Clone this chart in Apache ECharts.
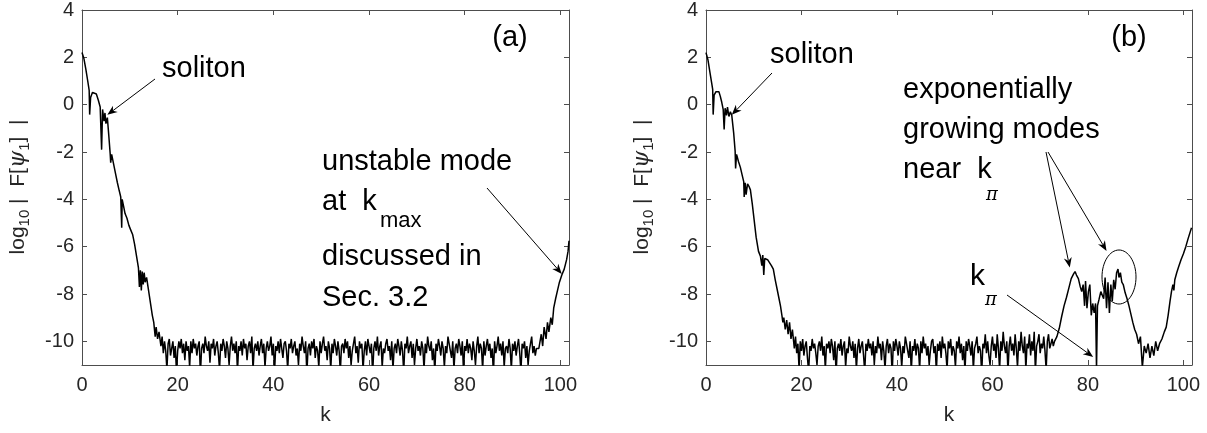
<!DOCTYPE html>
<html>
<head>
<meta charset="utf-8">
<script src="https://cdn.jsdelivr.net/npm/echarts@6/dist/echarts.min.js"></script>
<style>
  html, body { margin: 0; padding: 0; background: #fff; }
  #chart { width: 1207px; height: 433px; }
</style>
</head>
<body>
<div id="chart"></div>
<script>
// axis settings
const kMax = 101.8;
const yMin = -11;
const yMax = 4;
const kTicks = [0, 20, 40, 60, 80, 100];
const yTicks = [-10, -8, -6, -4, -2, 0, 2, 4];
const kStep = 0.25; // spacing of the noise-floor samples

// panel (a): soliton part
const kHeadA = [0, 0.4, 0.8, 1.2, 1.5, 1.6, 1.8, 2.2, 2.6, 3.0, 3.4, 3.8, 4.1, 4.3, 4.6, 4.8, 5.0, 5.3, 5.6, 5.9,
  6.0, 6.2, 6.6, 7.0, 7.4, 7.8, 8.1, 8.3, 8.4, 8.7, 9.0, 9.4, 9.8, 10.2, 10.6, 11.0, 11.4, 11.8, 12.0, 12.2,
  12.4, 12.6, 12.8, 13.0, 13.2, 13.5, 13.8, 14.1, 14.4, 14.7, 15.0, 15.3, 15.5, 15.8, 16.1];
const yHeadA = [2.2, 1.95, 1.5, 1.0, 0.6, -0.42, 0.3, 0.52, 0.55, 0.45, 0.2, -0.1, -1.9, -0.2, -0.7, -0.35, -0.8, -0.55, -1.3, -2.1,
  -2.45, -2.1, -2.5, -2.9, -3.3, -3.65, -3.9, -5.2, -4.0, -4.3, -4.6, -4.8, -5.1, -5.3, -5.5, -5.9, -6.4, -6.9, -7.7, -7.0,
  -7.85, -7.05, -7.6, -7.1, -7.5, -7.3, -7.7, -8.1, -8.5, -8.9, -9.2, -9.8, -9.4, -9.9, -9.6];
// panel (a): noise floor, k = 16.5 ... 95 every 0.25
const kBodyA0 = 16.5;
const yBodyA = [
  -10.2, -9.8, -10.5, -10.0, -10.4, -11.2, -10.1, -9.9, -10.6, -10.3, -10.0, -10.7, -10.2, -11.3, -10.4, -10.0, -10.3, -9.9, -10.5, -10.1, -10.8,
  -10.0, -10.4, -10.2, -11.1, -10.0, -10.5, -9.9, -10.3, -10.1, -10.6, -10.2, -10.0, -11.4, -10.3, -10.1, -10.5, -9.8, -10.2, -10.4, -10.0, -10.9,
  -10.1, -10.3, -9.9, -10.6, -10.2, -10.0, -10.5, -11.2, -10.1, -10.4, -9.9, -10.2, -10.7, -10.0, -10.3, -11.0, -10.2, -9.8, -10.4, -10.1, -10.5,
  -10.0, -11.3, -10.2, -10.4, -10.0, -10.6, -9.9, -10.3, -10.1, -10.8, -10.2, -10.0, -10.5, -9.8, -11.2, -10.3, -10.1, -10.4, -10.0, -10.6, -10.2,
  -9.9, -10.5, -10.1, -11.1, -10.3, -10.0, -10.4, -10.2, -9.8, -10.6, -10.1, -11.3, -10.2, -10.4, -10.0, -10.5, -9.9, -10.3, -10.7, -10.1, -10.0,
  -10.4, -11.2, -10.1, -10.3, -9.9, -10.5, -10.2, -10.0, -10.6, -10.3, -11.0, -10.1, -10.4, -9.8, -10.2, -10.5, -10.0, -11.4, -10.3, -10.1, -10.6,
  -10.0, -10.3, -9.9, -10.7, -10.2, -10.4, -11.1, -10.0, -10.5, -10.1, -9.8, -10.4, -10.2, -10.8, -10.0, -10.3, -11.2, -10.1, -10.5, -9.9, -10.2,
  -10.6, -10.0, -10.4, -11.3, -10.2, -10.1, -10.5, -9.9, -10.3, -10.0, -10.7, -10.2, -11.0, -10.4, -10.1, -9.8, -10.5, -10.2, -10.9, -10.0, -10.3,
  -10.1, -11.2, -10.4, -10.0, -10.6, -9.9, -10.2, -10.5, -10.1, -11.4, -10.3, -10.0, -10.4, -9.8, -10.6, -10.2, -10.0, -11.1, -10.3, -10.5, -10.1,
  -9.9, -10.4, -10.2, -10.8, -10.0, -11.2, -10.3, -10.1, -10.5, -9.9, -10.2, -10.6, -10.0, -10.4, -11.3, -10.1, -10.3, -9.8, -10.5, -10.2, -10.0,
  -10.7, -10.1, -11.0, -10.3, -9.9, -10.4, -10.2, -10.6, -10.0, -10.3, -11.2, -10.1, -10.5, -9.8, -10.2, -10.4, -10.0, -10.8, -10.3, -11.3, -10.1,
  -10.4, -9.9, -10.2, -10.6, -10.0, -10.3, -11.1, -10.2, -10.5, -9.8, -10.1, -10.4, -10.7, -10.0, -11.2, -10.3, -10.1, -10.5, -9.9, -10.2, -10.6,
  -10.0, -11.3, -10.2, -10.4, -9.9, -10.5, -10.1, -10.3, -10.8, -10.0, -10.4, -11.0, -10.2, -9.8, -10.5, -10.1, -10.3, -11.2, -10.0, -10.6, -10.2,
  -9.9, -10.4, -10.1, -10.7, -10.3, -11.4, -10.0, -10.5, -10.2, -9.8, -10.4, -10.1, -10.6, -10.0, -11.1, -10.3, -10.2, -10.5, -9.9, -10.3, -11.2,
  -10.1, -10.4, -10.0, -10.6, -10.2, -9.9, -10.5, -11.3, -10.1, -10.3, -10.0, -10.7, -10.2, -11.0, -10.4, -10.1, -9.8, -10.5, -10.2, -10.6, -10.3];
// panel (a): unstable mode at k_max
const kTailA = [95.5, 96.0, 96.3, 96.6, 97.0, 97.3, 97.6, 98.0, 98.3, 98.6, 99.0, 99.4, 99.8, 100.3, 100.8, 101.3, 101.6, 101.8];
const yTailA = [-10.3, -9.7, -10.2, -9.4, -9.9, -9.2, -9.6, -9.0, -9.3, -8.6, -8.2, -7.85, -7.5, -7.2, -6.95, -6.55, -6.2, -5.75];

// panel (b): soliton part
const kHeadB = [0, 0.4, 0.8, 1.2, 1.4, 1.5, 1.7, 2.1, 2.7, 3.0, 3.3, 3.6, 3.8, 4.0, 4.3, 4.5, 4.8, 5.1, 5.4, 5.8,
  6.1, 6.2, 6.4, 6.8, 7.2, 7.6, 7.9, 8.0, 8.2, 8.4, 8.7, 9.0, 9.3, 9.7, 10.1, 10.5, 11.0, 11.4, 11.7, 11.9,
  12.1, 12.3, 12.6, 12.9, 13.3, 13.7, 14.1, 14.5, 14.9, 15.3, 15.6, 15.9, 16.1, 16.3, 16.6, 16.9, 17.2, 17.5, 17.8, 18.1];
const yHeadB = [2.2, 1.9, 1.4, 0.9, 0.65, -0.42, 0.4, 0.55, 0.55, 0.35, 0.1, -0.2, -1.05, -0.15, -0.45, -0.1, -0.5, -0.3, -0.45, -1.2,
  -1.95, -2.7, -2.1, -2.4, -2.65, -3.0, -3.25, -3.9, -3.3, -3.8, -3.35, -3.45, -3.6, -4.2, -4.9, -5.6, -6.2, -6.4, -6.8, -6.35,
  -7.2, -6.5, -6.45, -6.55, -6.6, -6.8, -6.95, -7.4, -7.8, -8.2, -8.5, -8.9, -9.2, -9.0, -9.5, -9.1, -9.7, -9.2, -9.9, -9.5];
// panel (b): noise floor, k = 18.5 ... 73 every 0.25
const kBodyB0 = 18.5;
const yBodyB = [
  -10.3, -9.8, -10.5, -10.1, -11.2, -10.0, -10.4, -9.9, -10.6, -10.2, -10.0, -10.7, -11.3, -10.2, -10.4, -9.9, -10.3, -10.1, -10.5, -11.0, -10.2,
  -10.0, -10.4, -9.8, -10.6, -10.2, -11.2, -10.1, -10.3, -10.0, -10.5, -9.9, -10.2, -10.8, -10.0, -11.4, -10.3, -10.1, -10.4, -9.9, -10.6, -10.2,
  -10.0, -11.1, -10.3, -10.5, -9.8, -10.2, -10.4, -10.0, -10.7, -10.1, -11.2, -10.3, -9.9, -10.5, -10.2, -10.0, -10.6, -11.3, -10.1, -10.4, -9.9,
  -10.3, -10.1, -10.6, -10.0, -11.0, -10.2, -10.5, -9.8, -10.3, -10.1, -10.8, -10.0, -10.4, -11.2, -10.2, -9.9, -10.5, -10.1, -10.3, -11.4, -10.0,
  -10.4, -9.9, -10.2, -10.6, -10.0, -10.3, -11.1, -10.2, -10.5, -9.8, -10.1, -10.4, -10.7, -10.0, -11.3, -10.2, -10.4, -9.9, -10.6, -10.1, -10.3,
  -11.2, -10.0, -10.5, -9.8, -10.3, -10.1, -10.6, -10.2, -11.0, -10.4, -10.0, -9.9, -10.5, -10.2, -11.3, -10.1, -10.4, -10.0, -10.7, -9.8, -10.3,
  -10.1, -10.5, -11.2, -10.0, -10.3, -9.9, -10.6, -10.2, -10.4, -11.1, -10.0, -10.3, -9.8, -10.5, -10.1, -10.8, -10.2, -11.3, -10.0, -10.4, -9.9,
  -10.2, -10.6, -10.0, -11.2, -10.3, -10.1, -9.8, -10.5, -10.2, -10.4, -11.4, -10.1, -10.3, -9.7, -10.5, -10.0, -10.6, -11.0, -10.2, -9.8, -10.4,
  -10.1, -10.7, -9.7, -10.3, -11.2, -10.0, -10.4, -9.6, -10.2, -10.5, -10.0, -11.3, -10.2, -9.8, -10.4, -10.1, -10.6, -9.7, -10.3, -11.1, -10.0,
  -10.4, -9.6, -10.2, -10.5, -9.8, -11.2, -10.1, -10.3, -9.7, -10.6, -10.0, -10.4, -9.6, -11.3, -10.2, -10.0, -9.7, -10.5, -10.1, -10.3, -9.8,
  -10.4, -11.2, -10.0, -9.7, -10.3, -10.1, -9.9, -10.2, -10.0];
// panel (b): growing modes near k_pi and the rise to k_max
const kTailB = [73.5, 74.0, 74.5, 75.0, 75.5, 76.0, 76.5, 77.0, 77.3, 77.6, 78.0, 78.4, 78.7, 79.0, 79.3, 79.5, 79.8, 80.1, 80.4, 80.7,
  81.0, 81.3, 81.6, 81.8, 82.0, 82.3, 82.7, 83.0, 83.3, 83.6, 83.9, 84.2, 84.5, 84.8, 85.1, 85.4, 85.7, 86.0, 86.3, 86.5,
  86.8, 87.1, 87.4, 87.8, 88.2, 88.6, 89.0, 89.4, 89.8, 90.2, 90.6, 91.0, 91.4, 91.8, 92.2, 92.6, 93.0, 93.4, 93.8, 94.2,
  94.6, 95.0, 95.5, 96.0, 96.4, 96.8, 97.2, 97.5, 97.8, 98.0, 98.2, 98.6, 99.0, 99.5, 100.0, 100.5, 101.0, 101.7];
const yTailB = [-9.8, -9.45, -8.95, -8.5, -8.15, -7.75, -7.35, -7.15, -7.05, -7.2, -7.35, -7.7, -7.9, -7.6, -8.5, -7.45, -8.6, -7.9, -7.6, -8.9,
  -8.4, -8.8, -8.4, -11.2, -8.5, -8.25, -7.9, -7.85, -8.2, -7.3, -8.6, -7.5, -8.8, -7.6, -8.3, -7.4, -7.8, -7.1, -6.95, -7.3,
  -7.1, -7.5, -7.6, -7.95, -8.2, -8.5, -8.85, -9.2, -9.5, -9.7, -10.1, -9.8, -11.1, -10.2, -10.5, -10.1, -10.7, -10.2, -10.6, -10.0,
  -10.4, -10.1, -9.9, -9.6, -9.4, -8.9, -8.3, -7.9, -7.6, -7.85, -7.4, -7.1, -6.85, -6.55, -6.3, -6.0, -5.65, -5.2];

const font = "'Liberation Sans', Arial, Helvetica, sans-serif";
const axisColor = "#4d4d4d";
const textColor = "#262626";

function buildData(headK, headY, body0, bodyY, tailK, tailY) {
  const pts = [];
  headK.forEach((k, i) => pts.push([k, headY[i]]));
  bodyY.forEach((y, i) => pts.push([body0 + i * kStep, y]));
  tailK.forEach((k, i) => pts.push([k, tailY[i]]));
  return pts;
}

function xAxes(gridIndex) {
  const common = {
    type: "value", gridIndex: gridIndex, min: 0, max: kMax,
    axisLine: { show: true, onZero: false, lineStyle: { color: axisColor, width: 1 } },
    axisTick: { show: true, inside: true, length: 5, customValues: kTicks, lineStyle: { color: axisColor } },
    splitLine: { show: false }
  };
  return [
    Object.assign({}, common, {
      position: "bottom",
      axisLabel: { customValues: kTicks, margin: 10, fontSize: 20, color: textColor, fontFamily: font },
      name: "k", nameLocation: "middle", nameGap: 40,
      nameTextStyle: { fontSize: 21, color: textColor, fontFamily: font }
    }),
    Object.assign({}, common, { position: "top", axisLabel: { show: false } })
  ];
}

function yAxes(gridIndex) {
  const common = {
    type: "value", gridIndex: gridIndex, min: yMin, max: yMax,
    axisLine: { show: true, onZero: false, lineStyle: { color: axisColor, width: 1 } },
    axisTick: { show: true, inside: true, length: 5, customValues: yTicks, lineStyle: { color: axisColor } },
    splitLine: { show: false }
  };
  return [
    Object.assign({}, common, {
      position: "left",
      axisLabel: { customValues: yTicks, margin: 8, fontSize: 20, color: textColor, fontFamily: font }
    }),
    Object.assign({}, common, { position: "right", axisLabel: { show: false } })
  ];
}

function lineSeries(xi, yi, data) {
  return {
    type: "line", xAxisIndex: xi, yAxisIndex: yi, data: data,
    showSymbol: false, smooth: false, clip: true,
    lineStyle: { color: "#000", width: 1.5 },
    animation: false
  };
}

const chart = echarts.init(document.getElementById("chart"));
chart.setOption({
  backgroundColor: "#fff",
  animation: false,
  grid: [
    { left: 82, top: 8, width: 487, height: 357 },
    { left: 706, top: 8, width: 486, height: 357 }
  ],
  xAxis: xAxes(0).concat(xAxes(1)),
  yAxis: yAxes(0).concat(yAxes(1)),
  series: [
    lineSeries(0, 0, buildData(kHeadA, yHeadA, kBodyA0, yBodyA, kTailA, yTailA)),
    lineSeries(2, 2, buildData(kHeadB, yHeadB, kBodyB0, yBodyB, kTailB, yTailB))
  ]
});

// ---- annotations ----
function px(panel, k, y) {
  const idx = panel * 2;
  return chart.convertToPixel({ xAxisIndex: idx, yAxisIndex: idx }, [k, y]);
}

function arrow(from, tip) {
  const dx = tip[0] - from[0], dy = tip[1] - from[1];
  const len = Math.hypot(dx, dy);
  const ux = dx / len, uy = dy / len;
  const nx = -uy, ny = ux;
  const hl = 10, hw = 4;
  const base = [tip[0] - ux * hl, tip[1] - uy * hl];
  const notch = [tip[0] - ux * hl * 0.7, tip[1] - uy * hl * 0.7];
  return [
    { type: "line", shape: { x1: from[0], y1: from[1], x2: notch[0], y2: notch[1] },
      style: { stroke: "#000", lineWidth: 1 } },
    { type: "polygon",
      shape: { points: [tip, [base[0] + nx * hw, base[1] + ny * hw], notch, [base[0] - nx * hw, base[1] - ny * hw]] },
      style: { fill: "#000" } }
  ];
}

function label(x, y, text, size, extra) {
  return {
    type: "text", x: x, y: y,
    style: Object.assign({ text: text, fontSize: size, fontFamily: font, fill: "#000",
      align: "left", verticalAlign: "middle" }, extra || {})
  };
}

function yName(x) {
  return {
    type: "text", x: x, y: 187, rotation: Math.PI / 2,
    style: {
      text: "{n|log}{s|10}{n| |  F[}{g|ψ}{s|1}{n|]  |}",
      align: "center", verticalAlign: "middle",
      rich: {
        n: { fontSize: 21, fontFamily: font, fill: textColor, lineHeight: 28, verticalAlign: "middle" },
        s: { fontSize: 15, fontFamily: font, fill: textColor, verticalAlign: "bottom" },
        g: { fontSize: 22, fontFamily: "'DejaVu Serif', serif", fontStyle: "italic", fill: textColor, lineHeight: 28, verticalAlign: "middle" }
      }
    }
  };
}

const sz = 29;
const subSz = 22;
const graphic = [
  yName(18), yName(642),
  // panel (a)
  label(162, 69, "soliton", sz),
  label(510, 38, "(a)", sz, { align: "center" }),
  label(322, 162, "unstable mode", sz),
  label(322, 202, "at  k", sz),
  label(380, 221, "max", subSz),
  label(322, 257, "discussed in", sz),
  label(322, 298, "Sec. 3.2", sz),
  // panel (b)
  label(770, 55, "soliton", sz),
  label(1129, 38, "(b)", sz, { align: "center" }),
  label(903, 90, "exponentially", sz),
  label(903, 130, "growing modes", sz),
  label(903, 170, "near  k", sz),
  label(986, 195, "π", 18, { fontFamily: "'DejaVu Serif', serif", fontStyle: "italic" }),
  label(970, 277, "k", 30),
  label(985, 300, "π", 18, { fontFamily: "'DejaVu Serif', serif", fontStyle: "italic" }),
  { type: "ellipse", shape: { cx: 1119, cy: 277, rx: 17, ry: 27 },
    style: { fill: "none", stroke: "#000", lineWidth: 1 } }
]
  .concat(arrow([155, 79], px(0, 5.3, -0.43)))
  .concat(arrow([487, 188], px(0, 100.3, -7.15)))
  .concat(arrow([772, 73], px(1, 5.4, -0.43)))
  .concat(arrow([1046, 152], px(1, 76.2, -6.88)))
  .concat(arrow([1048, 152], px(1, 83.9, -6.18)))
  .concat(arrow([1007, 295], px(1, 81.1, -10.66)));

chart.setOption({ graphic: graphic });
</script>
</body>
</html>
